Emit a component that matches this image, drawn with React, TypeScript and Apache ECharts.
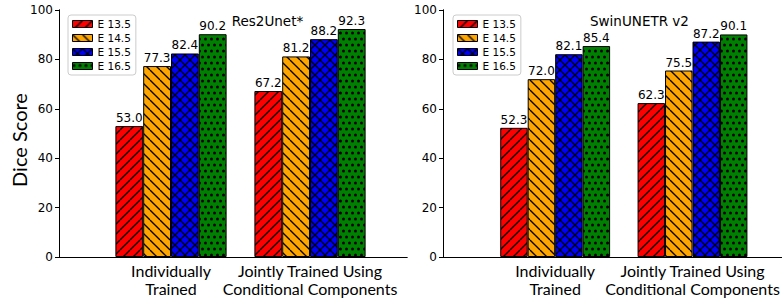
import React, { useEffect, useRef } from 'react';
import * as echarts from 'echarts';

const categories = ['Individually\nTrained', 'Jointly Trained Using\nConditional Components'];
const seriesNames = ['E 13.5', 'E 14.5', 'E 15.5', 'E 16.5'];
const panelTitles = ['Res2Unet*', 'SwinUNETR v2'];
const yAxisTitle = 'Dice Score';

// Res2Unet* panel
const res2E135 = [53.0, 67.2];
const res2E145 = [77.3, 81.2];
const res2E155 = [82.4, 88.2];
const res2E165 = [90.2, 92.3];

// SwinUNETR v2 panel
const swinE135 = [52.3, 62.3];
const swinE145 = [72.0, 75.5];
const swinE155 = [82.1, 87.2];
const swinE165 = [85.4, 90.1];

const yMin = 0;
const yMax = 100;
const yInterval = 20;

const barColors = ['#ff0000', '#ffa500', '#0000ff', '#008000'];
const hatchKinds = ['fwd', 'back', 'cross', 'dots'];

function makePattern(bg: string, kind: string) {
  const c = document.createElement('canvas');
  let w = 10;
  let h = 10;
  if (kind === 'dots') {
    w = 6;
    h = 12;
  }
  c.width = w;
  c.height = h;
  const ctx = c.getContext('2d')!;
  ctx.fillStyle = bg;
  ctx.fillRect(0, 0, w, h);
  ctx.strokeStyle = '#000';
  ctx.fillStyle = '#000';
  ctx.lineWidth = 1.3;
  const T = w;
  const fwd = () => {
    for (let k = -1; k <= 1; k++) {
      ctx.beginPath();
      ctx.moveTo(k * T, T);
      ctx.lineTo(k * T + T, 0);
      ctx.stroke();
    }
  };
  const back = () => {
    for (let k = -1; k <= 1; k++) {
      ctx.beginPath();
      ctx.moveTo(k * T, 0);
      ctx.lineTo(k * T + T, T);
      ctx.stroke();
    }
  };
  if (kind === 'fwd') fwd();
  if (kind === 'back') back();
  if (kind === 'cross') {
    fwd();
    back();
  }
  if (kind === 'dots') {
    const pts = [
      [1.5, 3],
      [4.5, 9],
      [-1.5, 9],
      [7.5, 3],
    ];
    for (const [x, y] of pts) {
      ctx.beginPath();
      ctx.arc(x, y, 1.5, 0, Math.PI * 2);
      ctx.fill();
    }
  }
  return { image: c, repeat: 'repeat', imageWidth: w, imageHeight: h } as any;
}

export default function App() {
  const ref = useRef<HTMLDivElement>(null);

  useEffect(() => {
    if (!ref.current) return;
    const chart = echarts.init(ref.current, null, { renderer: 'svg' });
    const patterns = barColors.map((c, i) => makePattern(c, hatchKinds[i]));
    const panelData = [
      [res2E135, res2E145, res2E155, res2E165],
      [swinE135, swinE145, swinE155, swinE165],
    ];

    const frameLeft = [59, 443];
    const frameWidth = [348, 340];
    const barsLeft = [101.5, 486.5];
    const top = 10;
    const height = 247;

    const grid: any[] = [];
    const xAxis: any[] = [];
    const yAxis: any[] = [];
    const series: any[] = [];
    const axisLine = { show: true, lineStyle: { color: '#000', width: 1 } };

    for (let p = 0; p < 2; p++) {
      const gFrame = grid.length;
      grid.push({ left: frameLeft[p], top, width: frameWidth[p], height });
      const gBars = grid.length;
      grid.push({ left: barsLeft[p], top, width: 278, height });

      xAxis.push({
        type: 'value', gridIndex: gFrame, min: 0, max: 1, position: 'bottom',
        axisLine, axisTick: { show: false }, axisLabel: { show: false }, splitLine: { show: false },
      });
      xAxis.push({
        type: 'value', gridIndex: gFrame, min: 0, max: 1, position: 'top',
        axisLine, axisTick: { show: false }, axisLabel: { show: false }, splitLine: { show: false },
      });
      const xc = xAxis.length;
      xAxis.push({
        type: 'category', gridIndex: gBars, data: categories,
        axisLine: { show: false }, axisTick: { show: false }, splitLine: { show: false },
        axisLabel: {
          interval: 0, fontFamily: 'Lato', fontSize: 16, lineHeight: 18, color: '#000', margin: 4,
        },
      });

      yAxis.push({
        type: 'value', gridIndex: gFrame, min: yMin, max: yMax, interval: yInterval, position: 'left',
        axisLine,
        axisTick: { show: true, length: 4, inside: false, lineStyle: { color: '#000', width: 1 } },
        axisLabel: { fontFamily: 'DejaVu Sans', fontSize: 12, color: '#000', margin: 6 },
        splitLine: { show: false },
      });
      yAxis.push({
        type: 'value', gridIndex: gFrame, min: yMin, max: yMax, position: 'right',
        axisLine, axisTick: { show: false }, axisLabel: { show: false }, splitLine: { show: false },
      });
      const yc = yAxis.length;
      yAxis.push({ type: 'value', gridIndex: gBars, min: yMin, max: yMax, show: false });

      for (let i = 0; i < 4; i++) {
        series.push({
          type: 'bar',
          name: seriesNames[i],
          xAxisIndex: xc,
          yAxisIndex: yc,
          data: panelData[p][i],
          barGap: '0%',
          barCategoryGap: '20%',
          itemStyle: { color: patterns[i], borderColor: '#000', borderWidth: 1 },
          label: {
            show: true, position: 'top', distance: 2,
            formatter: (q: any) => Number(q.value).toFixed(1),
            fontFamily: 'DejaVu Sans', fontSize: 12, color: '#000',
          },
        });
      }
    }

    const legendBase = {
      orient: 'vertical',
      top: 15,
      data: seriesNames,
      itemWidth: 20,
      itemHeight: 7,
      itemGap: 2,
      padding: [3, 5, 3, 4],
      borderColor: '#ccc',
      borderWidth: 1,
      borderRadius: 3,
      backgroundColor: 'rgba(255,255,255,0.8)',
      selectedMode: false,
      icon: 'rect',
      textStyle: { fontFamily: 'DejaVu Sans', fontSize: 10.5, color: '#000', lineHeight: 12 },
      itemStyle: { borderColor: '#000', borderWidth: 1 },
    };

    chart.setOption({
      animation: false,
      grid,
      xAxis,
      yAxis,
      series,
      legend: [
        { ...legendBase, left: 68 },
        { ...legendBase, left: 453 },
      ],
      graphic: [
        {
          type: 'text', left: 231.7, top: 14,
          style: { text: panelTitles[0], fontFamily: 'DejaVu Sans', fontSize: 13.5, fill: '#000' },
        },
        {
          type: 'text', left: 590, top: 14,
          style: { text: panelTitles[1], fontFamily: 'DejaVu Sans', fontSize: 13.5, fill: '#000' },
        },
        {
          type: 'text', x: 19, y: 140, rotation: Math.PI / 2,
          style: {
            text: yAxisTitle, fontFamily: 'Lato', fontSize: 20, fill: '#000',
            align: 'center', verticalAlign: 'middle',
          },
        },
      ],
    });
    return () => chart.dispose();
  }, []);

  return <div ref={ref} style={{ width: 782, height: 299, position: 'absolute', left: 0, top: 0 }} />;
}
